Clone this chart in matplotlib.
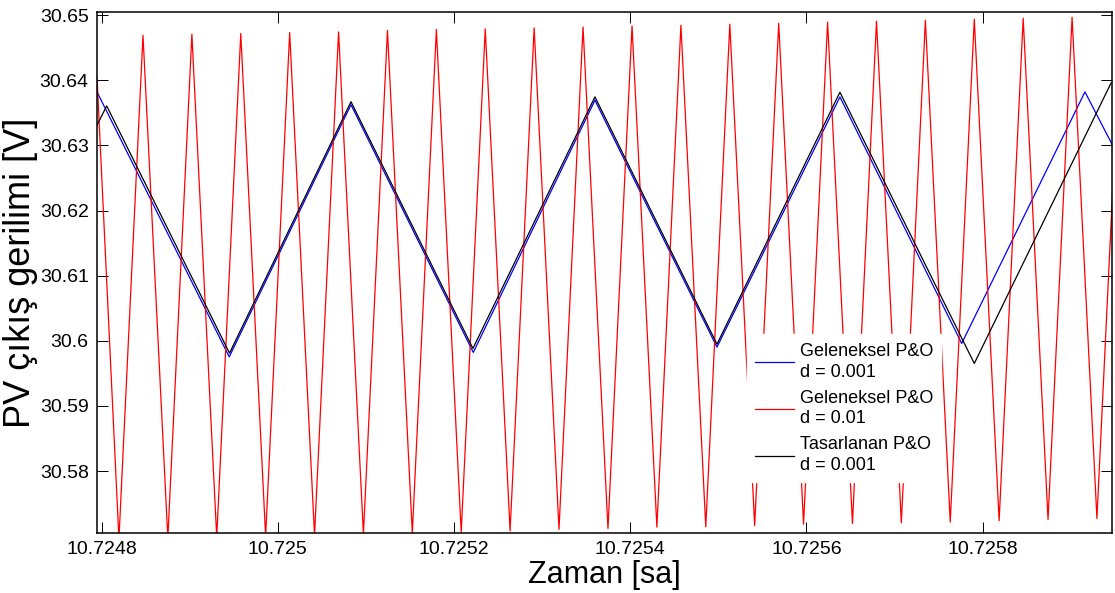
import numpy as np
import matplotlib
matplotlib.use('Agg')
import matplotlib.pyplot as plt
from matplotlib.ticker import FuncFormatter

# Geleneksel P&O, d = 0.001 (mavi)
t_blue = [10.7247947, 10.7249448, 10.7250830, 10.7252218, 10.7253599,
          10.7254984, 10.7256380, 10.7257762, 10.7259161, 10.7259468]
v_blue = [30.63823, 30.59754, 30.63626, 30.59822, 30.63695,
          30.59903, 30.63746, 30.59960, 30.63823, 30.63020]

# Tasarlanan P&O, d = 0.001 (siyah)
t_black = [10.7247947, 10.7248057, 10.7249451, 10.7250830, 10.7252214,
           10.7253599, 10.7254984, 10.7256380, 10.7257905, 10.7259456]
v_black = [30.63311, 30.63608, 30.59811, 30.63672, 30.59883,
           30.63746, 30.59949, 30.63818, 30.59653, 30.63956]

# Geleneksel P&O, d = 0.01 (kirmizi) - dip ve tepe noktalari
t_dip = [10.7248196, 10.7248751, 10.7249306, 10.7249861, 10.7250416,
         10.7250971, 10.7251526, 10.7252081, 10.7252636, 10.7253191,
         10.7253747, 10.7254302, 10.7254857, 10.7255412, 10.7255967,
         10.7256522, 10.7257077, 10.7257632, 10.7258187, 10.7258742,
         10.7259297]
v_dip = [30.56956, 30.56971, 30.56987, 30.57002, 30.57017,
         30.57033, 30.57048, 30.57063, 30.57083, 30.57105,
         30.57120, 30.57140, 30.57145, 30.57163, 30.57186,
         30.57197, 30.57206, 30.57217, 30.57237, 30.57258,
         30.57273]
t_tepe = [10.7248469, 10.7249024, 10.7249579, 10.7250134, 10.7250689,
          10.7251244, 10.7251799, 10.7252354, 10.7252909, 10.7253464,
          10.7254020, 10.7254575, 10.7255130, 10.7255685, 10.7256240,
          10.7256795, 10.7257350, 10.7257905, 10.7258460, 10.7259015,
          10.7259570]
v_tepe = [30.64693, 30.64708, 30.64719, 30.64734, 30.64744,
          30.64767, 30.64780, 30.64790, 30.64805, 30.64820,
          30.64836, 30.64846, 30.64862, 30.64877, 30.64893,
          30.64908, 30.64923, 30.64939, 30.64954, 30.64969,
          30.64985]
t_red0, v_red0 = 10.7247947, 30.6405

x_ticks = [10.7248, 10.7250, 10.7252, 10.7254, 10.7256, 10.7258]
y_ticks = [30.58, 30.59, 30.60, 30.61, 30.62, 30.63, 30.64, 30.65]

# kirmizi seriyi dip/tepe sirasiyla birlestir
t_red = [t_red0]
v_red = [v_red0]
for td, vd, tt, vt in zip(t_dip, v_dip, t_tepe, v_tepe):
    t_red += [td, tt]
    v_red += [vd, vt]

plt.rcParams['font.family'] = ['Liberation Sans', 'DejaVu Sans']

fig = plt.figure(figsize=(11.15, 5.93), dpi=100)
ax = fig.add_axes([0.0870, 0.1012, 0.9103, 0.8786])

ax.plot(t_blue, v_blue, color='blue', linewidth=0.9, label='Geleneksel P&O\nd = 0.001')
ax.plot(t_red, v_red, color='red', linewidth=0.9, label='Geleneksel P&O\nd = 0.01')
ax.plot(t_black, v_black, color='black', linewidth=0.9, label='Tasarlanan P&O\nd = 0.001')

ax.set_xlim(10.7247947, 10.7259468)
ax.set_ylim(30.5705, 30.6505)
ax.set_xticks(x_ticks)
ax.set_yticks(y_ticks)
fmt = FuncFormatter(lambda v, p: '%g' % v)
ax.xaxis.set_major_formatter(fmt)
ax.yaxis.set_major_formatter(fmt)
ax.tick_params(direction='in', top=True, right=True, length=8, width=0.7,
               labelsize=14, pad=6)
for s in ax.spines.values():
    s.set_linewidth(1.1)

ax.set_xlabel('Zaman [sa]', fontsize=22, labelpad=1)
ax.set_ylabel('PV çıkış gerilimi [V]', fontsize=26, labelpad=1)

leg = ax.legend(loc='upper left', bbox_to_anchor=(0.640, 0.381), fontsize=13,
                frameon=True, fancybox=False, borderaxespad=0, borderpad=0.45,
                handlelength=2.2, handletextpad=0.3, labelspacing=0.5)
for txt in leg.get_texts():
    txt.set_linespacing(1.3)
leg.get_frame().set_edgecolor('white')
leg.get_frame().set_facecolor('white')
leg.get_frame().set_alpha(1)

fig.savefig('out.png', dpi=100)
